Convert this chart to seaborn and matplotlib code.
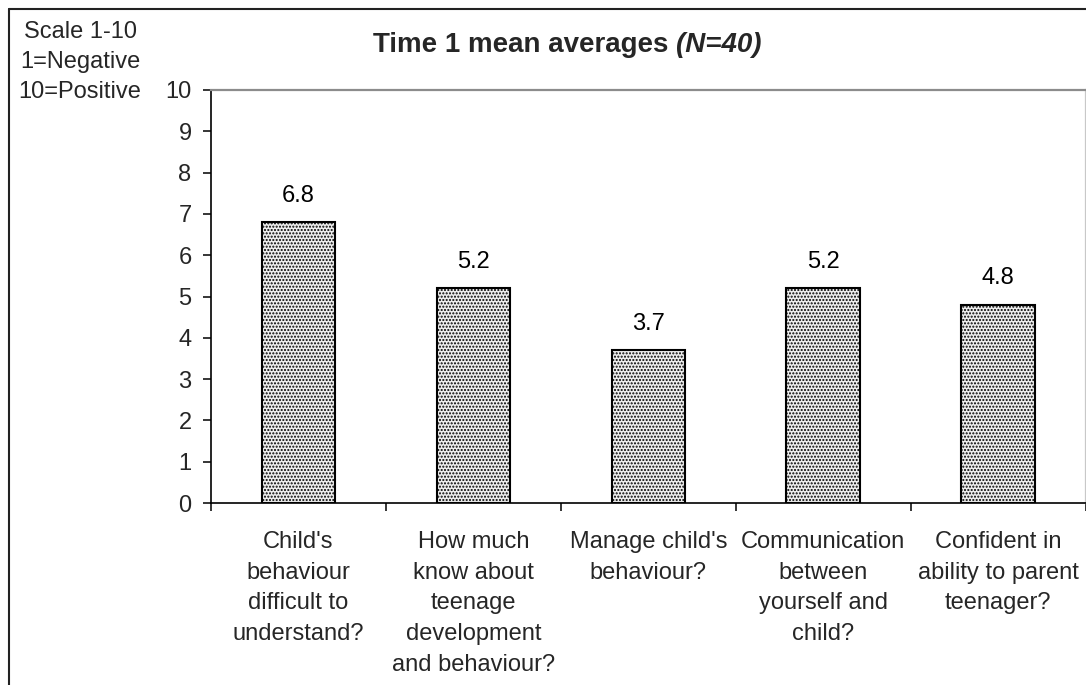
import matplotlib
matplotlib.use("Agg")
import matplotlib.pyplot as plt
import seaborn as sns
import pandas as pd
from matplotlib.lines import Line2D

# Questionnaire items and their Time 1 mean scores
questions = [
    "Child's\nbehaviour\ndifficult to\nunderstand?",
    "How much\nknow about\nteenage\ndevelopment\nand behaviour?",
    "Manage child's\nbehaviour?",
    "Communication\nbetween\nyourself and\nchild?",
    "Confident in\nability to parent\nteenager?",
]
means = [6.8, 5.2, 3.7, 5.2, 4.8]
y_ticks = list(range(0, 11))

sns.set_theme(style="white")
plt.rcParams["font.family"] = ["Liberation Sans", "DejaVu Sans"]
plt.rcParams["hatch.linewidth"] = 1.0

W, H = 1086, 685
fig = plt.figure(figsize=(W / 100, H / 100), dpi=100)
fig.patch.set_facecolor("white")

def fx(px):
    return px / W

def fy(py):
    return 1 - py / H

ax = fig.add_axes([fx(211), fy(503), fx(1085.5) - fx(211), fy(90) - fy(503)])

df = pd.DataFrame({"question": questions, "mean": means})
sns.barplot(data=df, x="question", y="mean", ax=ax, width=0.42,
            color="#eeeeee", edgecolor="black", linewidth=1.5,
            hatch=".....", saturation=1)

ax.set_xlim(-0.5, len(questions) - 0.5)
ax.set_ylim(0, 10)
ax.set_yticks(y_ticks)
ax.set_xlabel("")
ax.set_ylabel("")

# value labels above bars
for i, v in enumerate(means):
    ax.annotate(f"{v:.1f}", (i, v), xytext=(0, 11), textcoords="offset points",
                ha="center", va="bottom", fontsize=17, color="black")

# frame: black left/bottom axes, gray top/right plot-area border
for side in ["left", "bottom"]:
    ax.spines[side].set_color("black")
    ax.spines[side].set_linewidth(1.2)
for side in ["top", "right"]:
    ax.spines[side].set_color("#8c8c8c")
    ax.spines[side].set_linewidth(1.6)
ax.spines["right"].set_color("#c8c8c8")

ax.tick_params(axis="y", direction="out", length=6, width=1.1, color="black",
               labelsize=17, pad=8, left=True)
# category boundary ticks on x, labels at centers
ax.set_xticks([i - 0.5 for i in range(len(questions) + 1)], minor=True)
ax.tick_params(axis="x", which="minor", direction="out", length=6, width=1.1,
               color="black", bottom=True)
ax.tick_params(axis="x", which="major", length=0, pad=20, labelsize=17)
ax.set_xticks(range(len(questions)))
ax.set_xticklabels(questions, linespacing=1.52)

# scale note at top left
note = "Scale 1-10\n1=Negative\n10=Positive"
fig.text(fx(80), fy(62), note, ha="center", va="center", fontsize=17,
         linespacing=1.45)

# title: bold part and bold-italic part
renderer = fig.canvas.get_renderer()
t1 = fig.text(fx(373), fy(45), "Time 1 mean averages ", ha="left", va="center",
              fontsize=20, fontweight="bold")
bb = t1.get_window_extent(renderer=renderer)
fig.text(bb.x1 / W, fy(45), "(N=40)", ha="left", va="center",
         fontsize=20, fontweight="bold", fontstyle="italic")

# outer chart border (left and top edges)
fig.add_artist(Line2D([fx(9), fx(9)], [fy(9), 0], transform=fig.transFigure,
                      color="#222222", linewidth=1.5))
fig.add_artist(Line2D([fx(9), 1], [fy(9), fy(9)], transform=fig.transFigure,
                      color="#222222", linewidth=1.5))

fig.savefig("out.png", dpi=100)
